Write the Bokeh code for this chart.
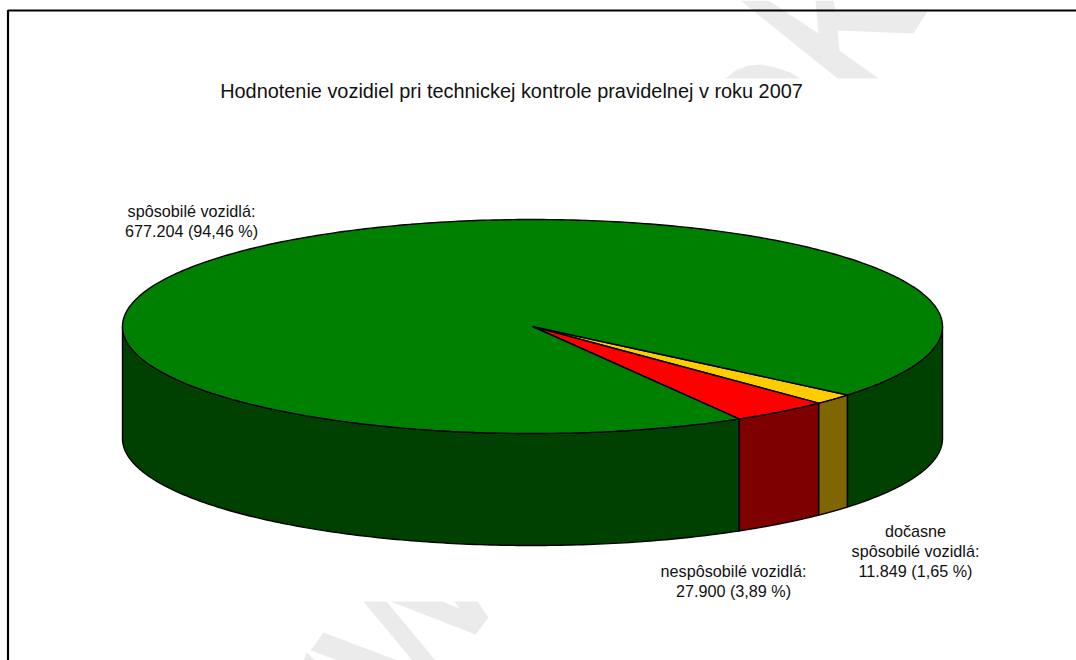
from math import pi, sin, cos
from bokeh.plotting import figure
from bokeh.models import Range1d
from bokeh.core.properties import value
from bokeh.embed import file_html
from bokeh.resources import INLINE

title_text = "Hodnotenie vozidiel pri technickej kontrole pravidelnej v roku 2007"
categories = ["dočasne spôsobilé vozidlá", "nespôsobilé vozidlá", "spôsobilé vozidlá"]
counts = [11849, 27900, 677204]
top_colors = ["#ffcc00", "#ff0000", "#008000"]
side_colors = ["#7f6600", "#7f0000", "#004000"]
label_lines = [
    ["dočasne", "spôsobilé vozidlá:", "11.849 (1,65 %)"],
    ["nespôsobilé vozidlá:", "27.900 (3,89 %)"],
    ["spôsobilé vozidlá:", "677.204 (94,46 %)"],
]

W, H = 1076, 660
CX, CY, RX, RY, DEPTH = 532, 326, 410, 107, 112
START = 39.8 * pi / 180
FONT = value("Liberation Sans")
WM = "#ebebeb"

p = figure(width=W, height=H, output_backend="svg", toolbar_location=None,
           x_range=Range1d(0, W), y_range=Range1d(H, 0),
           x_axis_type="linear", min_border=0)
p.axis.visible = False
p.grid.visible = False
p.outline_line_color = None
p.background_fill_color = "white"
p.border_fill_color = "white"

# Watermark fragments, visible only outside the chart's own white panel
wm_shapes = [
    ([740, 768, 818, 815, 833, 835, 927, 913, 837, 839, 878, 837],
     [0, 0, 33, 0, 0, 11, 11, 33, 30, 50, 78, 78]),
    ([725, 735, 748, 760, 775, 790, 800], [78, 70, 65, 64, 67, 72, 78]),
    ([363, 386, 435, 412], [601, 601, 660, 660]),
    ([390, 442, 459, 454, 477, 488, 475], [601, 601, 608, 601, 601, 617, 634]),
    ([323, 397, 337, 310], [632, 660, 660, 650]),
    ([306, 315, 303], [652, 660, 660]),
]
p.patches([s[0] for s in wm_shapes], [s[1] for s in wm_shapes],
          fill_color=WM, line_color=None)

# Page frame: left and top edges only, the top running off the right side
p.line([7.5, 7.5, W], [H, 10, 10], line_color="black", line_width=2.2)

total = sum(counts)
angles = [START]
for c in counts:
    angles.append(angles[-1] + 2 * pi * c / total)


def rim(a0, a1, n=160):
    return [a0 + (a1 - a0) * i / n for i in range(n + 1)]


def px(t):
    return CX + RX * cos(t)


def py(t):
    return CY + RY * sin(t)


# Walls: only the front half (screen angles 0..pi) is visible
wall_ranges = [
    (angles[0], angles[1], side_colors[0]),
    (angles[1], angles[2], side_colors[1]),
    (angles[2], pi, side_colors[2]),
    (0, angles[0], side_colors[2]),
]
for a0, a1, col in wall_ranges:
    ts = rim(a0, a1)
    xs = [px(t) for t in ts]
    ys = [py(t) for t in ts]
    p.patch(xs + xs[::-1], ys + [y + DEPTH for y in ys[::-1]],
            fill_color=col, line_color="black", line_width=1.4)

# Top faces
for i, col in enumerate(top_colors):
    ts = rim(angles[i], angles[i + 1], 400 if i == 2 else 40)
    p.patch([CX] + [px(t) for t in ts], [CY] + [py(t) for t in ts],
            fill_color=col, line_color="black", line_width=1.4)

# Texts
def put(x, y, txt, size="16.2px", align="center"):
    p.text([x], [y], text=[txt], text_font=FONT, text_font_size=size,
           text_align=align, text_baseline="middle", text_color="#111111")


put(511, 90, title_text, "19.9px")
label_pos = [(915, 530), (733, 570), (191, 210)]
for lines, (x, y0) in zip(label_lines, label_pos):
    for j, ln in enumerate(lines):
        put(x, y0 + j * 20.3, ln)

open("out.html", "w").write(file_html(p, INLINE))
